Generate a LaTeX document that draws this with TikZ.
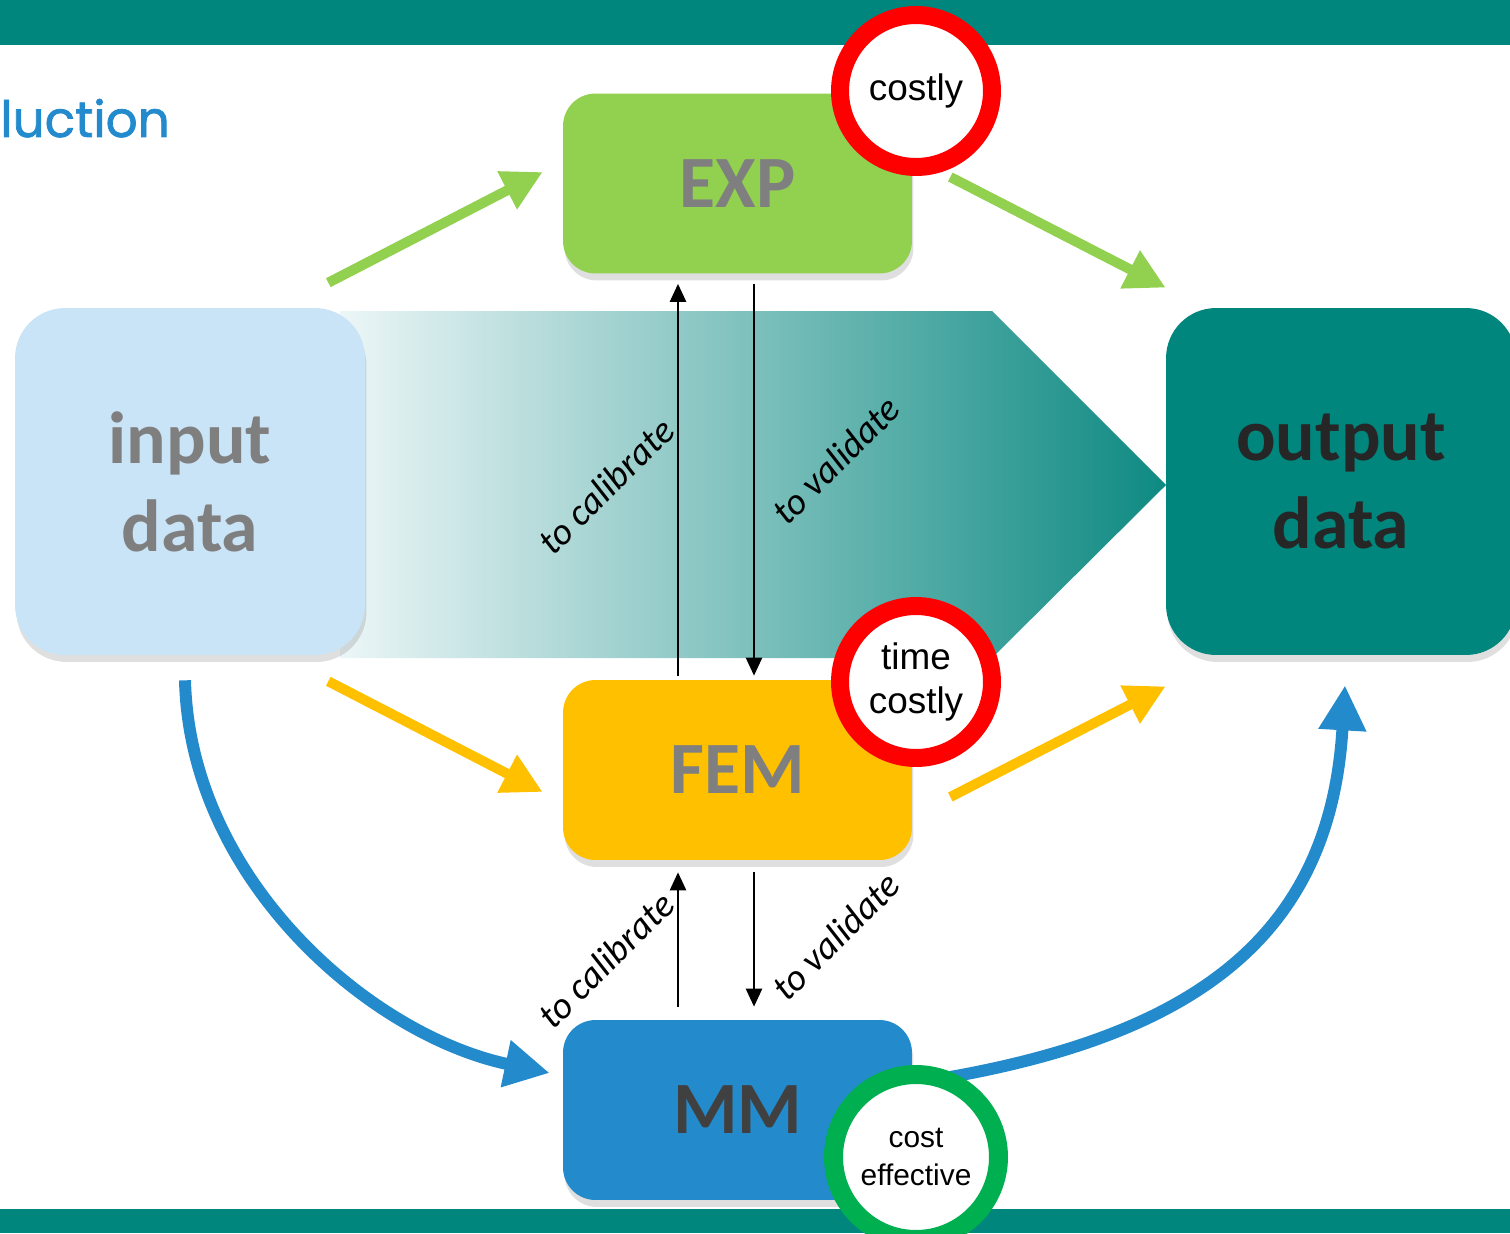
\documentclass[tikz,border=0pt]{standalone}
\usepackage{fontspec}
\setmainfont{Carlito}
\newfontfamily\arialfont{Liberation Sans}
\newfontfamily\titlefont{Poppins}[FakeBold=1.5]
\usetikzlibrary{arrows.meta,shadows}
\definecolor{barteal}{RGB}{0,134,125}
\definecolor{expgreen}{RGB}{146,208,80}
\definecolor{femyellow}{RGB}{255,192,0}
\definecolor{mmblue}{RGB}{35,138,204}
\definecolor{inblue}{RGB}{201,227,247}
\definecolor{ringred}{RGB}{255,0,0}
\definecolor{ringgreen}{RGB}{0,176,80}
\definecolor{labelgray}{RGB}{127,127,127}
\definecolor{labeldark}{RGB}{64,64,64}
\definecolor{outdark}{RGB}{38,38,38}
\definecolor{titleblue}{RGB}{35,139,205}
\definecolor{gradleft}{RGB}{236,246,247}
\definecolor{gradmid}{RGB}{172,216,219}
\definecolor{gradright}{RGB}{14,138,130}

\begin{document}
\begin{tikzpicture}[x=0.02cm, y=-0.02cm,
    bigbox/.style={rounded corners=1cm, minimum width=7cm, minimum height=6.94cm, inner sep=0pt,
        align=center, font=\fontsize{42}{50}\selectfont\bfseries,
        drop shadow={opacity=0.25, shadow xshift=0.3mm, shadow yshift=-1.4mm}},
    smallbox/.style={rounded corners=0.65cm, minimum width=6.98cm, minimum height=3.6cm, inner sep=0pt,
        text=labelgray, font=\fontsize{42}{50}\selectfont\bfseries,
        drop shadow={opacity=0.25, shadow xshift=0.3mm, shadow yshift=-1.4mm}},
    ring/.style={circle, fill=white, inner sep=0pt, align=center,
        font=\arialfont\fontsize{21}{25.5}\selectfont},
    flow/.style={line width=0.2cm, -{Triangle[length=0.8cm, width=0.8cm]}},
    curve/.style={mmblue, line width=0.24cm, -{Triangle[length=0.9cm, width=0.9cm]}},
    link/.style={line width=0.05cm, -{Triangle[length=0.36cm, width=0.32cm]}},
    linklabel/.style={rotate=45, inner sep=0pt, font=\fontsize{21.5}{26}\selectfont\itshape}]
    \useasboundingbox (0,0) rectangle (1510,1233) ;
    \clip (0,0) rectangle (1510,1233) ;

    \fill [barteal] (0,0) rectangle (1510,45) ;
    \fill [barteal] (0,1209) rectangle (1510,1233) ;
    \node [anchor=base west, inner sep=0pt, text=titleblue, font=\titlefont\fontsize{28.5}{34}\selectfont] (title) at (0,137) {luction} ;

    \shade [left color=gradleft, middle color=gradmid, right color=gradright]
        (340,311) -- (992,311) -- (1166,485) -- (992,658) -- (340,658) -- cycle ;

    \node [bigbox, fill=inblue, text=labelgray] (in) at (190,481.5) {input\\data} ;
    \node [bigbox, fill=barteal, text=outdark] (out) at (1341,481.5) {output\\data} ;
    \node [smallbox, fill=expgreen] (exp) at (737.5,183.5) {EXP} ;
    \node [smallbox, fill=femyellow] (fem) at (737.5,770) {FEM} ;
    \node [smallbox, fill=mmblue, text=labeldark] (mm) at (737.5,1110) {MM} ;

    \draw [flow, expgreen] ([shift={(-37,-25)}]in.north east) -- ([shift={(-20,-11.5)}]exp.west) ;
    \draw [flow, expgreen] ([shift={(38,-6.5)}]exp.east) -- ([shift={(0,-20)}]out.north west) ;
    \draw [flow, femyellow] ([shift={(-37,26)}]in.south east) -- ([shift={(-20,22)}]fem.west) ;
    \draw [flow, femyellow] ([shift={(38,27)}]fem.east) -- ([shift={(0,31)}]out.south west) ;

    \draw [curve] ([shift={(-5,25)}]in.south) .. controls (190,880) and (370,1035) .. ([shift={(-13,-37)}]mm.west) ;
    \draw [curve] ([shift={(8,-28)}]mm.east) .. controls (1190,1040) and (1330,940) .. ([shift={(4,30)}]out.south) ;

    \draw [link] ([shift={(-59.5,-4)}]fem.north) -- ([shift={(-59.5,10)}]exp.south) ;
    \draw [link] ([shift={(16.5,10)}]exp.south) -- ([shift={(16.5,-4)}]fem.north) ;
    \draw [link] ([shift={(-59.5,-13)}]mm.north) -- ([shift={(-59.5,12)}]fem.south) ;
    \draw [link] ([shift={(16.5,12)}]fem.south) -- ([shift={(16.5,-13)}]mm.north) ;

    \node [linklabel] (cal1) at (606,486) {to calibrate} ;
    \node [linklabel] (val1) at (836,460) {to validate} ;
    \node [linklabel] (cal2) at (606,960) {to calibrate} ;
    \node [linklabel] (val2) at (836,936) {to validate} ;

    \node [ring, draw=ringred, line width=0.36cm, minimum size=3.04cm] (c1) at (916,91) {costly} ;
    \node [ring, draw=ringred, line width=0.36cm, minimum size=3.04cm] (c2) at (916,682) {time\\costly} ;
    \node [ring, draw=ringgreen, line width=0.38cm, minimum size=3.3cm,
        font=\arialfont\fontsize{17}{21.5}\selectfont] (c3) at (916,1157) {cost\\effective} ;
\end{tikzpicture}
\end{document}
